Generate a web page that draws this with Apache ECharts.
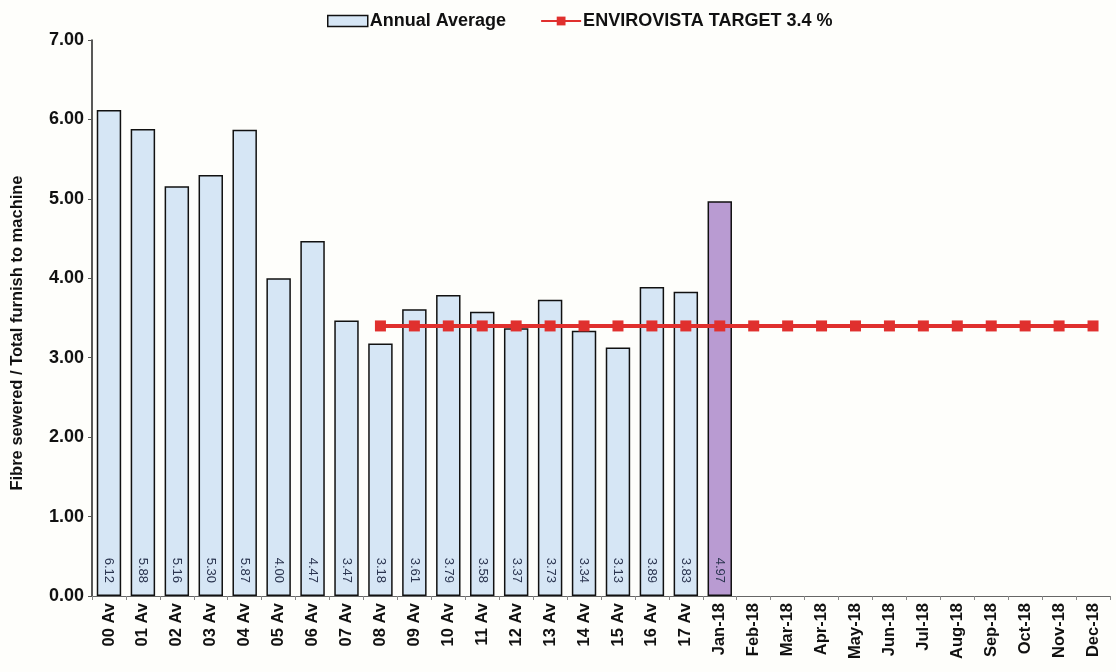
<!DOCTYPE html>
<html>
<head>
<meta charset="utf-8">
<script src="https://cdn.jsdelivr.net/npm/echarts@6/dist/echarts.min.js"></script>
<style>
html,body{margin:0;padding:0;background:#fefefb;}
#chart{width:1116px;height:672px;}
</style>
</head>
<body>
<div id="chart"></div>
<script>
const categories = ['00 Av','01 Av','02 Av','03 Av','04 Av','05 Av','06 Av','07 Av','08 Av','09 Av','10 Av','11 Av','12 Av','13 Av','14 Av','15 Av','16 Av','17 Av','Jan-18','Feb-18','Mar-18','Apr-18','May-18','Jun-18','Jul-18','Aug-18','Sep-18','Oct-18','Nov-18','Dec-18'];
const annualAverage = [6.12,5.88,5.16,5.30,5.87,4.00,4.47,3.47,3.18,3.61,3.79,3.58,3.37,3.73,3.34,3.13,3.89,3.83,4.97];
const targetValues = [null,null,null,null,null,null,null,null,3.4,3.4,3.4,3.4,3.4,3.4,3.4,3.4,3.4,3.4,3.4,3.4,3.4,3.4,3.4,3.4,3.4,3.4,3.4,3.4,3.4,3.4];
const yTicks = {min:0, max:7, interval:1};

const FONT = 'Liberation Sans, Arial, sans-serif';
const chart = echarts.init(document.getElementById('chart'));
chart.setOption({
  backgroundColor:'#fefefb',
  animation:false,
  legend:{
    top:7, left:322, itemGap:34, itemWidth:40, itemHeight:11,
    textStyle:{fontFamily:FONT, fontWeight:'bold', fontSize:18, color:'#111', padding:[0,0,0,-3]},
    data:[
      {name:'Annual Average', icon:'rect', itemStyle:{color:'#d6e6f5', borderColor:'#111', borderWidth:1.5}},
      {name:'ENVIROVISTA TARGET 3.4 %'}
    ]
  },
  grid:{left:92, right:6, top:40, bottom:76, containLabel:false},
  xAxis:{
    type:'category', data:categories,
    axisLine:{lineStyle:{color:'#666', width:1}},
    axisTick:{show:true, length:4, lineStyle:{color:'#888'}},
    axisLabel:{rotate:90, interval:0, fontFamily:FONT, fontWeight:'bold', fontSize:16.5, color:'#111', margin:7}
  },
  yAxis:{
    type:'value', min:yTicks.min, max:yTicks.max, interval:yTicks.interval,
    name:'Fibre sewered / Total furnish to machine', nameLocation:'middle', nameGap:66, nameRotate:90,
    nameTextStyle:{fontFamily:FONT, fontWeight:'bold', fontSize:16.5, color:'#111', padding:[0,30,0,0]},
    axisLine:{show:true, lineStyle:{color:'#222', width:1.5}},
    axisTick:{show:true, length:4, lineStyle:{color:'#555'}},
    splitLine:{show:false},
    axisLabel:{fontFamily:FONT, fontWeight:'bold', fontSize:18, color:'#111', margin:8,
      formatter:v=>v.toFixed(2)}
  },
  series:[
    {
      name:'Annual Average', type:'bar', data:annualAverage, barWidth:'72%',
      itemStyle:{
        color:p=>p.dataIndex===18?'#b99bd2':'#d6e6f5',
        borderColor:'#111', borderWidth:1.5
      },
      label:{show:true, position:'insideBottom', rotate:-90, align:'right', verticalAlign:'middle', distance:13,
        fontFamily:FONT, fontSize:13, color:'#2b3550', formatter:p=>p.value.toFixed(2)}
    },
    {
      name:'ENVIROVISTA TARGET 3.4 %', type:'line', data:targetValues,
      symbol:'rect', symbolSize:11, showSymbol:true,
      lineStyle:{color:'#e0302e', width:4},
      itemStyle:{color:'#e0302e'}, z:5
    }
  ]
});
</script>
</body>
</html>
